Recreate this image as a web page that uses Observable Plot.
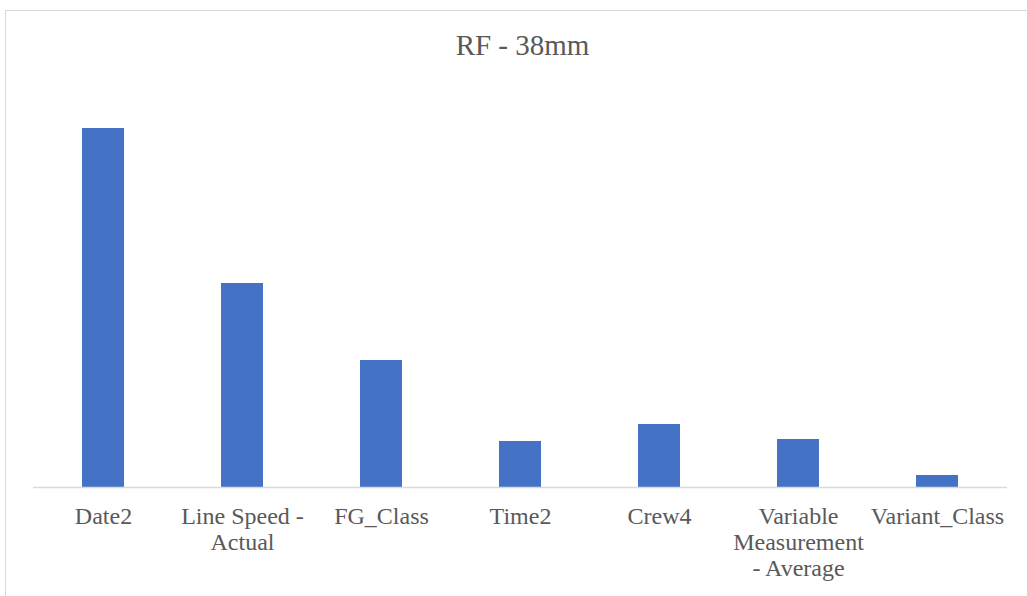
<!DOCTYPE html>
<html>
<head>
<meta charset="utf-8">
<script src="https://cdn.jsdelivr.net/npm/d3@7"></script>
<script src="https://cdn.jsdelivr.net/npm/@observablehq/plot@0.6"></script>
<style>
  html, body { margin: 0; padding: 0; background: #fff; overflow: hidden; }
  #wrap { position: relative; width: 1027px; height: 596px; }
  #frame { position: absolute; left: 5px; top: 10px; width: 1040px; height: 600px; border: 1px solid #d9d9d9; box-sizing: border-box; }
  #title { position: absolute; left: 0; top: 29px; width: 1045px; text-align: center; line-height: 33px;
           font-family: "Liberation Serif", "Times New Roman", serif; font-size: 29px; color: #595959; }
  #chart { position: absolute; left: 0; top: 0; }
  #chart svg text { font-family: "Liberation Serif", "Times New Roman", serif; }
</style>
</head>
<body>
<div id="wrap">
  <div id="frame"></div>
  <div id="title">RF - 38mm</div>
  <div id="chart"></div>
</div>
<script>
// Features and their importance for the RF - 38mm model
const features = ["Date2", "Line Speed - Actual", "FG_Class", "Time2", "Crew4", "Variable Measurement - Average", "Variant_Class"];
const importance = [35.9, 20.4, 12.7, 4.6, 6.3, 4.8, 1.2];
// Wrapped axis labels, one per feature
const tickLabels = ["Date2", "Line Speed -\nActual", "FG_Class", "Time2", "Crew4", "Variable\nMeasurement\n- Average", "Variant_Class"];

const rows = features.map((f, i) => ({feature: f, value: importance[i]}));
const labelOf = new Map(features.map((f, i) => [f, tickLabels[i]]));

const chart = Plot.plot({
  width: 1027,
  height: 596,
  marginLeft: 33,
  marginRight: 20,
  marginTop: 87,
  marginBottom: 109,
  style: {fontSize: "24px", color: "#595959", background: "transparent"},
  x: {domain: features, paddingInner: 0.7, paddingOuter: 0.35, label: null},
  y: {domain: [0, 40], axis: null},
  marks: [
    Plot.barY(rows, {x: "feature", y: "value", fill: "#4472C4"}),
    Plot.ruleY([0], {stroke: "#d9d9d9", strokeWidth: 1.5}),
    Plot.axisX({tickSize: 0, tickPadding: 18, tickFormat: d => labelOf.get(d), lineHeight: 1.08, fill: "#595959", fontSize: 24})
  ]
});
document.getElementById("chart").appendChild(chart);
</script>
</body>
</html>
